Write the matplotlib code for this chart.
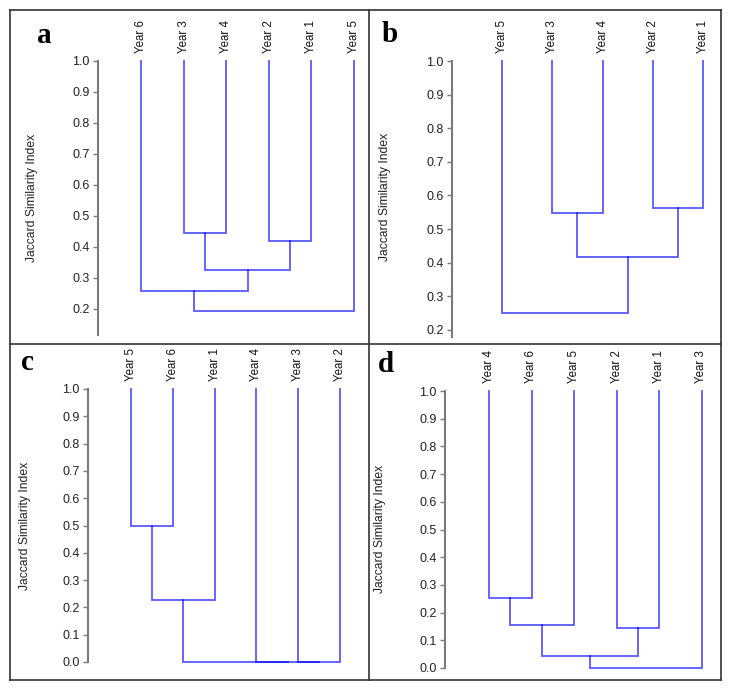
import matplotlib
matplotlib.use("Agg")
import matplotlib.pyplot as plt
from matplotlib.lines import Line2D

W, H = 734, 694

# leaf order (left to right) and merges (left node, right node, similarity)
# node ids 0..n-1 are leaves, each merge creates node n, n+1, ...
leaves_a = ["Year 6", "Year 3", "Year 4", "Year 2", "Year 1", "Year 5"]
merges_a = [(1, 2, 0.446), (3, 4, 0.418), (6, 7, 0.326), (0, 8, 0.259), (9, 5, 0.193)]
ticks_a = [0.2, 0.3, 0.4, 0.5, 0.6, 0.7, 0.8, 0.9, 1.0]

leaves_b = ["Year 5", "Year 3", "Year 4", "Year 2", "Year 1"]
merges_b = [(1, 2, 0.547), (3, 4, 0.562), (5, 6, 0.417), (0, 7, 0.249)]
ticks_b = [0.2, 0.3, 0.4, 0.5, 0.6, 0.7, 0.8, 0.9, 1.0]

leaves_c = ["Year 5", "Year 6", "Year 1", "Year 4", "Year 3", "Year 2"]
merges_c = [(0, 1, 0.50), (6, 2, 0.228), (4, 5, 0.0), (3, 8, 0.0), (7, 9, 0.0)]
ticks_c = [0.0, 0.1, 0.2, 0.3, 0.4, 0.5, 0.6, 0.7, 0.8, 0.9, 1.0]

leaves_d = ["Year 4", "Year 6", "Year 5", "Year 2", "Year 1", "Year 3"]
merges_d = [(0, 1, 0.252), (6, 2, 0.157), (3, 4, 0.145), (7, 8, 0.045), (9, 5, 0.0)]
ticks_d = [0.0, 0.1, 0.2, 0.3, 0.4, 0.5, 0.6, 0.7, 0.8, 0.9, 1.0]

letters = ["a", "b", "c", "d"]
ylabel = "Jaccard Similarity Index"

# layout in pixels: axes box (left, top, right, bottom), ylim, first leaf x, leaf step
layout = [
    dict(box=(98, 61, 366, 335), ylim=(0.116, 1.0), leaf0=141, step=42.6,
         letter=(44.5, 43), ylab=(31.5, 198)),
    dict(box=(452, 61, 718, 337), ylim=(0.179, 1.0), leaf0=502, step=50.25,
         letter=(390, 42), ylab=(385, 197)),
    dict(box=(88, 389, 366, 662), ylim=(0.0, 1.0), leaf0=131, step=41.8,
         letter=(27, 370), ylab=(25, 526)),
    dict(box=(445, 391, 718, 668), ylim=(0.0, 1.0), leaf0=489, step=42.5,
         letter=(385.5, 372), ylab=(380, 529)),
]
panels = [(leaves_a, merges_a, ticks_a), (leaves_b, merges_b, ticks_b),
          (leaves_c, merges_c, ticks_c), (leaves_d, merges_d, ticks_d)]

plt.rcParams['font.family'] = ['Liberation Sans', 'DejaVu Sans']


def fx(x):
    return x / W


def fy(y):
    return 1 - y / H


def draw_dendro(ax, leaves, merges):
    xs = list(range(len(leaves)))
    ys = [1.0] * len(leaves)
    for l, r, h in merges:
        ax.plot([xs[l], xs[l], xs[r], xs[r]], [ys[l], h, h, ys[r]],
                color='blue', alpha=0.65, lw=1.3, clip_on=False,
                solid_joinstyle='miter')
        xs.append((xs[l] + xs[r]) / 2)
        ys.append(h)
    for i, lab in enumerate(leaves):
        ax.annotate(lab, (i, 1.0), xytext=(0, 5.5), textcoords='offset points',
                    rotation=90, ha='center', va='bottom', fontsize=8.3, color='#111111')


fig = plt.figure(figsize=(W / 100, H / 100), dpi=100)

for (leaves, merges, ticks), lay, letter in zip(panels, layout, letters):
    left, top, right, bottom = lay['box']
    ax = fig.add_axes([fx(left), fy(bottom), (right - left) / W, (bottom - top) / H])
    x0 = -(lay['leaf0'] - left) / lay['step']
    ax.set_xlim(x0, x0 + (right - left) / lay['step'])
    ax.set_ylim(*lay['ylim'])
    draw_dendro(ax, leaves, merges)

    for s in ['top', 'right', 'bottom']:
        ax.spines[s].set_visible(False)
    ax.spines['left'].set_color('#7a7a7a')
    ax.spines['left'].set_linewidth(1.5)
    ax.set_xticks([])
    ax.set_yticks(ticks)
    ax.set_yticklabels([f"{t:.1f}" for t in ticks])
    ax.tick_params(axis='y', direction='out', length=3.5, width=1, color='#7a7a7a',
                   labelcolor='#222222', labelsize=9, pad=2.5)
    ax.patch.set_visible(False)

    fig.text(fx(lay['ylab'][0]), fy(lay['ylab'][1]), ylabel, rotation=90,
             ha='center', va='center', fontsize=8.7, color='#222222')
    fig.text(fx(lay['letter'][0]), fy(lay['letter'][1]), letter, ha='center',
             va='baseline', fontsize=21, fontweight='bold', family='Liberation Serif')

# panel frame
for x in [10, 369, 721]:
    fig.add_artist(Line2D([fx(x), fx(x)], [fy(10), fy(680)], color='#333333', lw=1.2))
for y in [10, 344, 680]:
    fig.add_artist(Line2D([fx(10), fx(721)], [fy(y), fy(y)], color='#333333', lw=1.2))

fig.savefig("out.png", dpi=100)
